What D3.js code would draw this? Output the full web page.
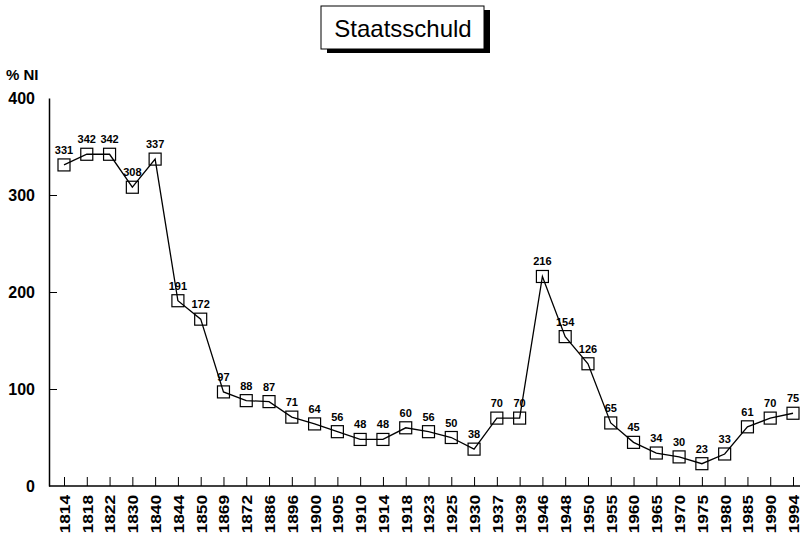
<!DOCTYPE html>
<html>
<head>
<meta charset="utf-8">
<script src="https://cdn.jsdelivr.net/npm/d3@7"></script>
<style>
  body { margin: 0; background: #fff; }
  svg { font-family: "Liberation Sans", Arial, sans-serif; }
</style>
</head>
<body>
<svg id="chart"></svg>
<script>
// data
var years = ["1814", "1818", "1822", "1830", "1840", "1844", "1850", "1869", "1872", "1886",
    "1896", "1900", "1905", "1910", "1914", "1918", "1923", "1925", "1930", "1937", "1939",
    "1946", "1948", "1950", "1955", "1960", "1965", "1970", "1975", "1980", "1985", "1990", "1994"];
var debt = [331, 342, 342, 308, 337, 191, 172, 97, 88, 87,
    71, 64, 56, 48, 48, 60, 56, 50, 38, 70, 70,
    216, 154, 126, 65, 45, 34, 30, 23, 33, 61, 70, 75];
var yTicks = [0, 100, 200, 300, 400];

var w = 803,
    h = 536;

var svg = d3.select("#chart")
    .attr("width", w)
    .attr("height", h);

var x = d3.scalePoint()
    .domain(years)
    .range([64, 793]);

var y = d3.scaleLinear()
    .domain([0, 400])
    .range([486, 98]);

// title box with a shadow on the right and bottom
var title = svg.append("g");
title.append("rect")
    .attr("x", 327).attr("y", 10)
    .attr("width", 163).attr("height", 43)
    .attr("fill", "#000");
title.append("rect")
    .attr("x", 321).attr("y", 6)
    .attr("width", 163).attr("height", 43)
    .attr("fill", "#fff")
    .attr("stroke", "#000")
    .attr("stroke-width", 1);
title.append("text")
    .attr("x", 403).attr("y", 37)
    .attr("text-anchor", "middle")
    .style("font-size", "24px")
    .text("Staatsschuld");

svg.append("text")
    .attr("x", 6).attr("y", 80)
    .style("font-size", "15px")
    .style("font-weight", "bold")
    .text("% NI");

// y axis, ticks point inward
var yAxis = svg.append("g")
    .attr("transform", "translate(49,0)")
    .call(d3.axisLeft(y).tickValues(yTicks).tickSize(-8).tickSizeOuter(0).tickPadding(14));
yAxis.select(".domain").attr("stroke-width", 1.5);
yAxis.selectAll(".tick line").filter(function(d) { return d === 0 || d === 400; }).remove();
yAxis.selectAll("text")
    .attr("fill", "#000")
    .style("font-size", "16px")
    .style("font-weight", "bold")
    .style("font-family", "Liberation Sans, Arial, sans-serif");

// x axis, ticks point up, labels turned and a bit stretched along their length
var stretch = 1.15;
var xAxis = svg.append("g")
    .attr("transform", "translate(0," + y(0) + ")")
    .call(d3.axisBottom(x).tickSize(-9).tickSizeOuter(0));
xAxis.select(".domain").attr("d", "M49,0H800").attr("stroke-width", 1.5);
xAxis.selectAll("text")
    .attr("transform", "rotate(-90) scale(" + stretch + ",1)")
    .attr("text-anchor", "end")
    .attr("x", -9 / stretch)
    .attr("y", 0)
    .attr("dy", "0.36em")
    .attr("fill", "#000")
    .style("font-size", "15px")
    .style("font-weight", "bold")
    .style("font-family", "Liberation Sans, Arial, sans-serif");

var points = years.map(function(d, i) { return { year: d, value: debt[i] }; });

var line = d3.line()
    .x(function(d) { return x(d.year); })
    .y(function(d) { return y(d.value); });

svg.append("path")
    .datum(points)
    .attr("d", line)
    .attr("fill", "none")
    .attr("stroke", "#000")
    .attr("stroke-width", 1.3);

svg.selectAll("rect.marker")
    .data(points)
    .enter().append("rect")
    .attr("class", "marker")
    .attr("x", function(d) { return x(d.year) - 6; })
    .attr("y", function(d) { return y(d.value) - 6; })
    .attr("width", 12)
    .attr("height", 12)
    .attr("fill", "none")
    .attr("stroke", "#000")
    .attr("stroke-width", 1.2);

svg.selectAll("text.val")
    .data(points)
    .enter().append("text")
    .attr("class", "val")
    .attr("x", function(d) { return x(d.year); })
    .attr("y", function(d) { return y(d.value) - 11; })
    .attr("text-anchor", "middle")
    .style("font-size", "11px")
    .style("font-weight", "bold")
    .text(function(d) { return d.value; });
</script>
</body>
</html>
